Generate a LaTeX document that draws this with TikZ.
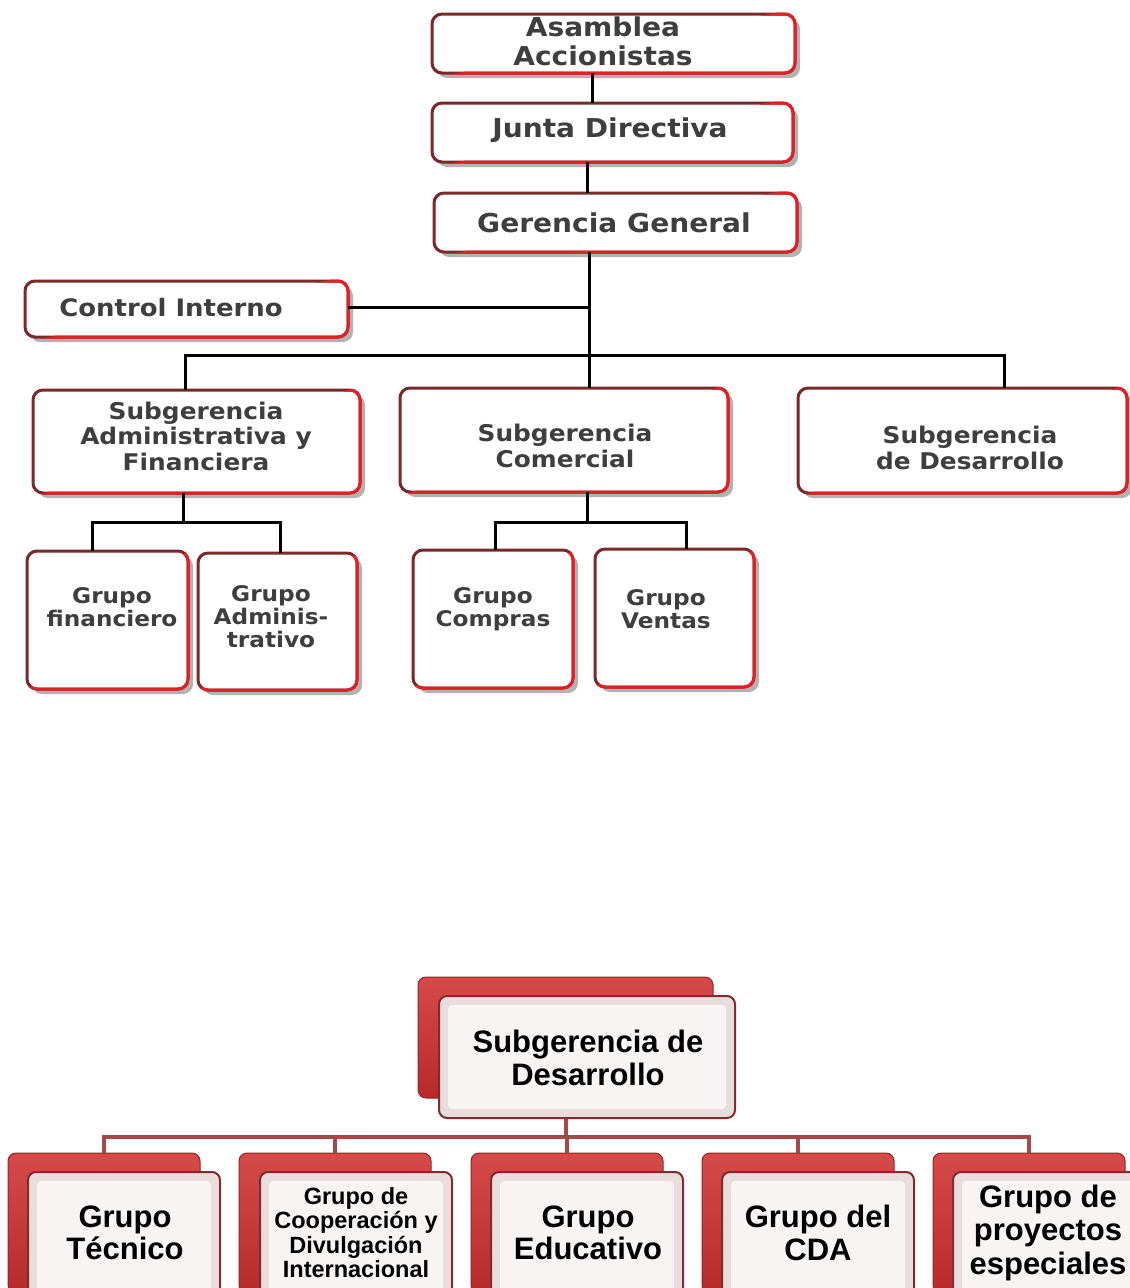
\documentclass[tikz,border=0pt]{standalone}
\usepackage{fontspec}
\newfontfamily\topfont{DejaVu Sans}[FakeStretch=1.08]
\newfontfamily\botfont{Liberation Sans}
\usetikzlibrary{shadows,calc}
\definecolor{dkred}{RGB}{122,40,40}
\definecolor{brred}{RGB}{230,30,36}
\definecolor{txtgray}{RGB}{62,62,62}
\definecolor{conred}{RGB}{165,72,72}
\definecolor{backtop}{RGB}{214,74,74}
\definecolor{backbot}{RGB}{182,42,42}
\definecolor{backdraw}{RGB}{150,35,35}
\definecolor{frontdraw}{RGB}{125,45,45}
\definecolor{frontfill}{RGB}{232,220,220}
\definecolor{frontin}{RGB}{249,244,244}
\newcommand\tfs[2]{\topfont\bfseries\fontsize{#1}{#2}\selectfont}
\newcommand\bfs[2]{\botfont\bfseries\fontsize{#1}{#2}\selectfont}
\tikzset{
  obox/.style={draw=dkred, line width=3pt, fill=white, rounded corners=10pt,
    outer sep=0pt, inner sep=0pt,
    drop shadow={shadow xshift=5pt, shadow yshift=-5pt, opacity=0.3, fill=black}},
  ttxt/.style={text=txtgray, align=center, inner sep=0pt},
  btxt/.style={text=black, align=center, inner sep=0pt},
  conn/.style={line width=3pt, black},
  bconn/.style={line width=4pt, conred},
  backbox/.style={draw=backdraw, line width=1pt, top color=backtop, bottom color=backbot,
    rounded corners=8pt, outer sep=0pt, inner sep=0pt},
  frontbox/.style={draw=frontdraw, line width=2pt, fill=frontfill, rounded corners=8pt,
    outer sep=0pt, inner sep=0pt,
    path picture={\fill[frontin, rounded corners=4pt]
      ([xshift=9pt,yshift=9pt]path picture bounding box.south west) rectangle
      ([xshift=-9pt,yshift=-9pt]path picture bounding box.north east);}},
}
\begin{document}
\begin{tikzpicture}[x=1pt,y=-1pt]
\clip (0,0) rectangle (1130,1288);
\fill[white] (0,0) rectangle (1130,1288);

% ---------- top chart boxes ----------
\node[obox, minimum width=363pt, minimum height=59pt] (asam) at (613.5,43.5) {};
\node[obox, minimum width=361pt, minimum height=59pt] (junta) at (612.5,132.5) {};
\node[obox, minimum width=363pt, minimum height=59pt] (geren) at (615.5,222.5) {};
\node[obox, minimum width=323pt, minimum height=56pt] (ctrl) at (186.5,309) {};
\node[obox, minimum width=327pt, minimum height=103pt] (saf) at (196.5,441.5) {};
\node[obox, minimum width=328pt, minimum height=104pt] (scom) at (564,440) {};
\node[obox, minimum width=329pt, minimum height=105pt] (sdes) at (962.5,440.5) {};
\node[obox, minimum width=161pt, minimum height=138pt] (gfin) at (107.5,620) {};
\node[obox, minimum width=159pt, minimum height=137pt] (gadm) at (277.5,621.5) {};
\node[obox, minimum width=160pt, minimum height=138pt] (gcom) at (493,619) {};
\node[obox, minimum width=159pt, minimum height=138pt] (gven) at (674.5,618) {};

% bright red lower-right half of each border
\foreach \n in {asam,junta,geren,ctrl,saf,scom,sdes,gfin,gadm,gcom,gven}{
  \begin{scope}
    \clip ([xshift=-6pt,yshift=-6pt]\n.south west) -- ([xshift=6pt,yshift=6pt]\n.north east)
          -- ([xshift=6pt,yshift=-6pt]\n.south east) -- cycle;
    \draw[brred, line width=3pt, rounded corners=10pt] (\n.south west) rectangle (\n.north east);
  \end{scope}
}

% ---------- top chart connectors ----------
\coordinate (bus) at (589,355);
\coordinate (b2) at (183,522);
\coordinate (b3) at (587,522);
\draw[conn] ([xshift=-21.5pt]asam.south) -- ([xshift=-21.5pt]asam.south |- junta.north);
\draw[conn] ([xshift=-25.5pt]junta.south) -- ([xshift=-25.5pt]junta.south |- geren.north);
\draw[conn] ([xshift=-26.5pt]geren.south) -- ([xshift=-26.5pt]geren.south |- scom.north);
\draw[conn] ([yshift=2pt]ctrl.east) -- ([yshift=2pt]ctrl.east -| bus);
\draw[conn] ([xshift=-11.5pt]saf.north) |- (bus) -| ([xshift=41.5pt]sdes.north);
\draw[conn] ([xshift=-13.5pt]saf.south) -- (b2);
\draw[conn] ([xshift=-15.5pt]gfin.north) |- (b2) -| ([xshift=2.5pt]gadm.north);
\draw[conn] ([xshift=23pt]scom.south) -- (b3);
\draw[conn] ([xshift=2pt]gcom.north) |- (b3) -| ([xshift=11.5pt]gven.north);

% ---------- top chart texts ----------
\node[ttxt, font=\tfs{26}{29}] (asam-t) at (603,41.5) {Asamblea\\Accionistas};
\node[ttxt, font=\tfs{26}{29}] (junta-t) at (610,130) {Junta Directiva};
\node[ttxt, font=\tfs{26}{29}] (geren-t) at (614,223) {Gerencia General};
\node[ttxt, font=\tfs{24}{27}] (ctrl-t) at (171,308) {Control Interno};
\node[ttxt, font=\tfs{23}{25.5}] (saf-t) at (196,436) {Subgerencia\\Administrativa y\\Financiera};
\node[ttxt, font=\tfs{23}{25.5}] (scom-t) at (565,446) {Subgerencia\\Comercial};
\node[ttxt, font=\tfs{23}{25.5}] (sdes-t) at (970,448) {Subgerencia\\de Desarrollo};
\node[ttxt, font=\tfs{21.5}{23}] (gfin-t) at (112,607.5) {Grupo\\financiero};
\node[ttxt, font=\tfs{21.5}{23}] (gadm-t) at (271,617) {Grupo\\Adminis-\\trativo};
\node[ttxt, font=\tfs{21.5}{23}] (gcom-t) at (493,609.5) {Grupo\\Compras};
\node[ttxt, font=\tfs{21.5}{23}] (gven-t) at (666,609.5) {Grupo\\Ventas};

% ---------- bottom chart ----------
\coordinate (bb) at (565.5,1137);
\node[backbox, minimum width=295pt, minimum height=121pt] (pback) at (565.5,1037.5) {};
\node[backbox, minimum width=192pt, minimum height=140pt] (c1back) at (104,1223) {};
\node[backbox, minimum width=192pt, minimum height=140pt] (c2back) at (335,1223) {};
\node[backbox, minimum width=192pt, minimum height=140pt] (c3back) at (567,1223) {};
\node[backbox, minimum width=192pt, minimum height=140pt] (c4back) at (798,1223) {};
\node[backbox, minimum width=192pt, minimum height=140pt] (c5back) at (1029,1223) {};

\draw[bconn] (pback.south) -- (bb);
\draw[bconn] (c1back.north) |- (bb) -| (c5back.north);
\draw[bconn] (c2back.north) -- (c2back.north |- bb);
\draw[bconn] (c3back.north) -- (c3back.north |- bb);
\draw[bconn] (c4back.north) -- (c4back.north |- bb);

\node[frontbox, minimum width=296pt, minimum height=122pt] (pfront) at (587,1057) {};
\node[frontbox, minimum width=192pt, minimum height=140pt] (c1front) at (124,1242) {};
\node[frontbox, minimum width=192pt, minimum height=140pt] (c2front) at (356,1242) {};
\node[frontbox, minimum width=192pt, minimum height=140pt] (c3front) at (587,1242) {};
\node[frontbox, minimum width=192pt, minimum height=140pt] (c4front) at (818,1242) {};
\node[frontbox, minimum width=192pt, minimum height=140pt] (c5front) at (1049,1242) {};

\node[btxt, font=\bfs{31}{32.5}] (pfront-t) at (588,1058) {Subgerencia de\\Desarrollo};
\node[btxt, font=\bfs{31}{32.5}] (c1-t) at (125,1233) {Grupo\\Técnico};
\node[btxt, font=\bfs{23.5}{24.5}] (c2-t) at (356,1232.5) {Grupo de\\Cooperación y\\Divulgación\\Internacional};
\node[btxt, font=\bfs{31}{32.5}] (c3-t) at (588,1233) {Grupo\\Educativo};
\node[btxt, font=\bfs{31}{32.5}] (c4-t) at (818,1233) {Grupo del\\CDA};
\node[btxt, font=\bfs{31}{33.5}] (c5-t) at (1048,1232.5) {Grupo de\\proyectos\\especiales};
\end{tikzpicture}
\end{document}
